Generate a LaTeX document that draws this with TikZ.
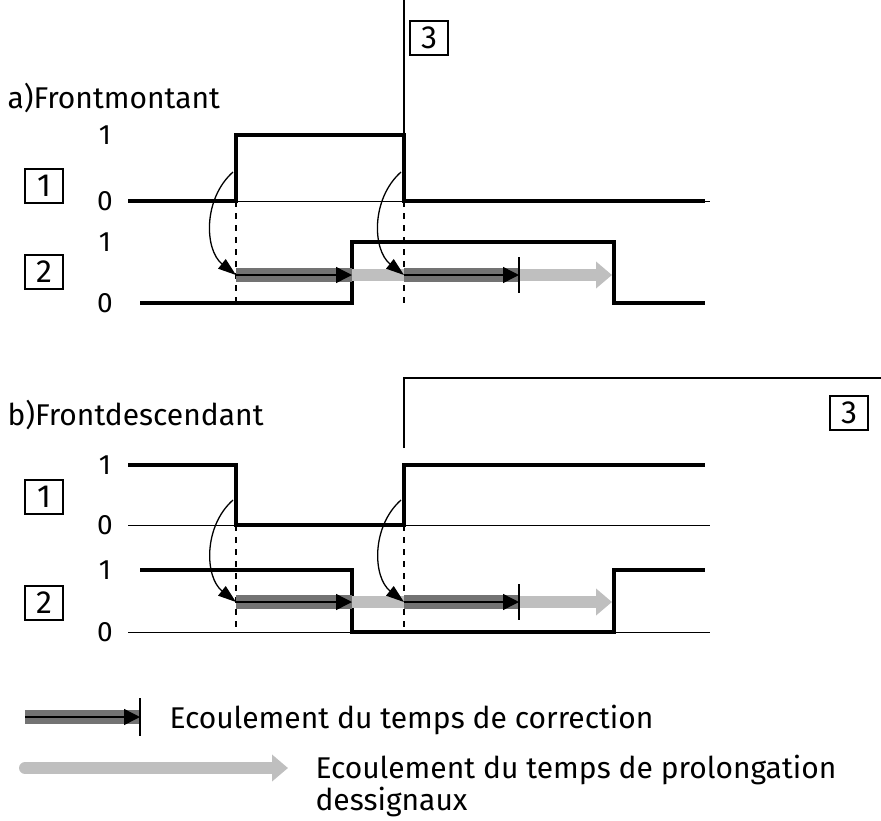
\documentclass[tikz,border=0pt]{standalone}
\usepackage{fontspec}
\setmainfont{Fira Sans}
\usetikzlibrary{arrows.meta}
\tikzset{
  sig/.style={line width=3.5pt},
  base/.style={line width=1pt},
  boxnum/.style={draw,line width=1.2pt,minimum width=38pt,minimum height=34pt,inner sep=0pt,font=\fontsize{32}{34}\selectfont},
  lvl/.style={font=\fontsize{28}{30}\selectfont},
  txt/.style={anchor=west,font=\fontsize{30}{32}\selectfont,align=left},
  corr/.style={line width=14pt,black!55},
  prol/.style={line width=12pt,black!25,-{Triangle[length=16pt,width=26pt]}},
  corrline/.style={line width=1.5pt,-{Triangle[length=16pt,width=16pt]}},
  bendarr/.style={line width=1.3pt,-{Triangle[length=18pt,width=12pt]},bend right=50},
  guide/.style={line width=1.3pt,dash pattern=on 6pt off 6pt}
}
\begin{document}
\begin{tikzpicture}[x=1pt,y=-1pt]
\useasboundingbox (0,0) rectangle (881,820);
\node[txt] (ta) at (4,98) {a)Frontmontant};
\node[boxnum] (a3) at (429,38) {3};
\node[boxnum] (a1) at (44,186) {1};
\node[boxnum] (a2) at (44,272) {2};
\node[lvl] (a1h) at (105,135) {1};
\node[lvl] (a1l) at (105,201) {0};
\node[lvl] (a2h) at (105,242) {1};
\node[lvl] (a2l) at (105,303) {0};
\draw[line width=1.2pt] (404,0) -- (404,135);
\draw[base] (128,201) -- (710,201);
\draw[sig] (128,201) -- (236,201) -- (236,135) -- (404,135) -- (404,201) -- (705,201);
\draw[sig] (140,303) -- (352,303) -- (352,242) -- (614,242) -- (614,303) -- (705,303);
\draw[guide] (236,201) -- (236,303);
\draw[guide] (404,201) -- (404,303);
\draw[prol] (352,275) -- (612,275);
\draw[corr] (236,275) -- (352,275);
\draw[corr] (404,275) -- (519,275);
\draw[corrline] (236,275) -- (352,275);
\draw[corrline] (404,275) -- (519,275);
\draw[line width=1.3pt] (519,257) -- (519,293);
\draw[bendarr] (233,172) to (236,275);
\draw[bendarr] (401,172) to (404,275);

\node[txt] (tb) at (4,415) {b)Frontdescendant};
\node[boxnum] (b3) at (849,413) {3};
\node[boxnum] (b1) at (44,497) {1};
\node[boxnum] (b2) at (44,603) {2};
\node[lvl] (b1h) at (105,465) {1};
\node[lvl] (b1l) at (105,525) {0};
\node[lvl] (b2h) at (105,570) {1};
\node[lvl] (b2l) at (105,632) {0};
\draw[line width=1.2pt] (404,448) -- (404,378) -- (881,378);
\draw[base] (128,525) -- (710,525);
\draw[base] (128,632) -- (710,632);
\draw[sig] (128,465) -- (236,465) -- (236,525) -- (404,525) -- (404,465) -- (705,465);
\draw[sig] (140,570) -- (352,570) -- (352,632) -- (614,632) -- (614,570) -- (705,570);
\draw[guide] (236,525) -- (236,632);
\draw[guide] (404,525) -- (404,632);
\draw[prol] (352,602) -- (612,602);
\draw[corr] (236,602) -- (352,602);
\draw[corr] (404,602) -- (519,602);
\draw[corrline] (236,602) -- (352,602);
\draw[corrline] (404,602) -- (519,602);
\draw[line width=1.3pt] (519,584) -- (519,620);
\draw[bendarr] (233,500) to (236,602);
\draw[bendarr] (401,500) to (404,602);

\draw[corr] (25,717) -- (140,717);
\draw[corrline] (25,717) -- (140,717);
\draw[line width=1.3pt] (140,698) -- (140,736);
\draw[prol,line cap=round] (25,768) -- (288,768);
\node[txt] (lc) at (166,720) {Ecoulement du temps de correction};
\node[txt] (lp) at (312,786) {Ecoulement du temps de prolongation\\dessignaux};
\end{tikzpicture}
\end{document}
